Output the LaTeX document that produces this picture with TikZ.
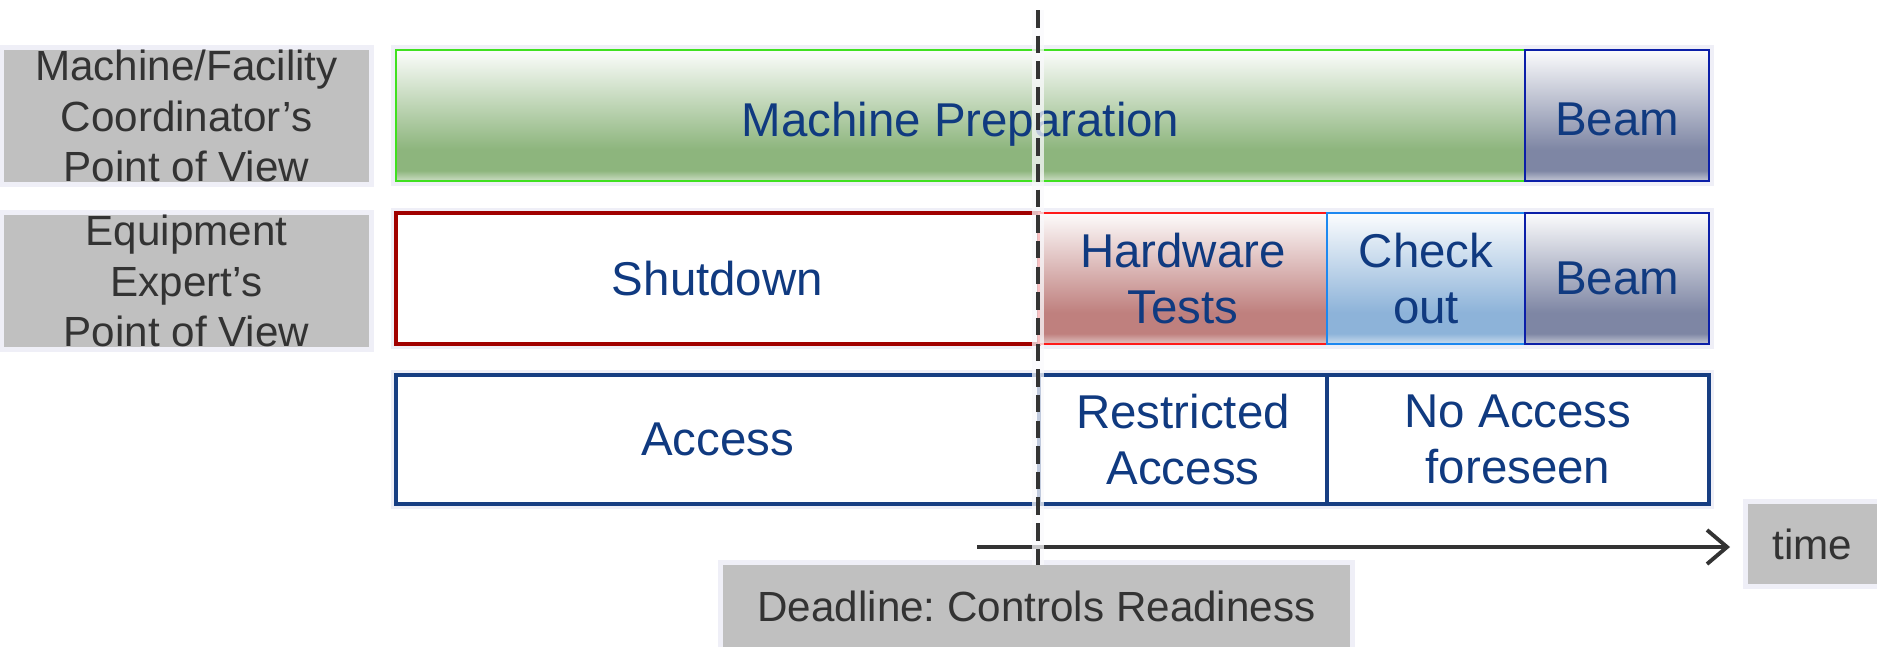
\documentclass[tikz,border=0pt]{standalone}
\usepackage{fontspec}
\setmainfont{Liberation Sans}
\usetikzlibrary{positioning,arrows.meta,backgrounds}

\definecolor{txtblue}{HTML}{103A80}
\definecolor{tagfill}{HTML}{C0C0C0}
\definecolor{tagtext}{HTML}{333333}
\definecolor{glowc}{HTML}{EFEFF7}
\definecolor{prepc}{HTML}{8DB57D}
\definecolor{prepline}{HTML}{40E020}
\definecolor{beamc}{HTML}{7E86A4}
\definecolor{beamline}{HTML}{0B1FA8}
\definecolor{hwc}{HTML}{BF807E}
\definecolor{hwline}{HTML}{FF1A1A}
\definecolor{chkc}{HTML}{8DB3D9}
\definecolor{chkline}{HTML}{1E88F0}
\definecolor{shutline}{HTML}{A00000}
\definecolor{accline}{HTML}{173E82}
\definecolor{darkline}{HTML}{333333}

% vertical fade: light rim at the bottom, full colour low, white at the top
\newcommand{\mkfade}[2]{%
  \pgfdeclareverticalshading{#1}{100bp}{color(0bp)=(#2!45!white);
    color(25bp)=(#2!45!white); color(29bp)=(#2); color(37bp)=(#2);
    color(75bp)=(#2!3!white); color(100bp)=(#2!3!white)}}
\mkfade{prepfade}{prepc}
\mkfade{beamfade}{beamc}
\mkfade{hwfade}{hwc}
\mkfade{chkfade}{chkc}

\begin{document}
\begin{tikzpicture}[x=1cm, y=1cm,
    every node/.style={inner sep=0pt, outer sep=0pt, align=center},
    cell/.style={minimum height=1.31cm, text=txtblue,
      font=\fontsize{13.5}{16}\selectfont, line width=0.6pt},
    acccell/.style={cell, minimum height=1.29cm, draw=accline, fill=white,
      line width=0.9pt},
    tag/.style={fill=tagfill, text=tagtext,
      font=\fontsize{12}{14.3}\selectfont\frenchspacing},
    dline/.style={draw=darkline, line width=0.9pt, dash pattern=on 5pt off 2.3pt},
    tline/.style={draw=darkline, line width=1.1pt,
      -{Straight Barb[length=2mm, width=3.4mm]}, shorten >=0.18cm}]
  \useasboundingbox (0,0) rectangle (18.77,-6.46);

  % points of view
  \node[tag, minimum width=3.65cm, minimum height=1.32cm] (lblA) at (1.865,-1.16)
    {Machine/Facility\\Coordinator’s\\Point of View};
  \node[tag, minimum width=3.65cm, minimum height=1.32cm] (lblB) at (1.865,-2.81)
    {Equipment\\Expert’s\\Point of View};

  % coordinator row
  \node[cell, shading=prepfade, draw=prepline, minimum width=11.29cm,
    anchor=north west] (prep) at (3.96,-0.50)
    {\raisebox{-2.4pt}[\height][\depth]{Machine Preparation}};
  \node[cell, shading=beamfade, draw=beamline, minimum width=1.84cm,
    right=0pt of prep] (beamA) {\raisebox{-1pt}[\height][\depth]{Beam}};

  % expert row
  \node[cell, fill=white, draw=shutline, line width=0.9pt, minimum width=6.43cm,
    anchor=north west] (shut) at (3.96,-2.13) {Shutdown};
  \node[cell, shading=hwfade, draw=hwline, minimum width=2.88cm,
    right=0pt of shut] (hwt) {Hardware\\Tests};
  \node[cell, shading=chkfade, draw=chkline, minimum width=1.98cm,
    right=0pt of hwt] (chk) {Check\\out};
  \node[cell, shading=beamfade, draw=beamline, minimum width=1.84cm,
    right=0pt of chk] (beamB) {Beam};

  % access row
  \node[acccell, minimum width=6.43cm, anchor=north west] (acc) at (3.96,-3.75) {Access};
  \node[acccell, minimum width=2.88cm, right=0pt of acc] (racc) {Restricted\\Access};
  \node[acccell, minimum width=3.82cm, right=0pt of racc] (nacc) {No Access\\foreseen};

  % time axis
  \node[tag, minimum width=1.29cm, minimum height=0.80cm] (tm) at (18.125,-5.44) {time};
  \coordinate (t0) at (9.77,-5.47);
  \draw[tline] (t0) -- (t0 -| tm.west);

  % deadline
  \node[tag, minimum width=6.27cm, minimum height=0.82cm] (dl) at (10.365,-6.06)
    {Deadline: Controls Readiness};
  \coordinate (dtop) at (10.38,-0.10);
  \draw[draw=white!60!glowc, line width=3.5pt, opacity=0.75] (dtop) -- (dtop |- dl.north);
  \draw[dline] (dtop) -- (dtop |- dl.north);

  % soft halo behind the boxes
  \begin{pgfonlayer}{background}
    \foreach \n in {lblA,lblB,prep,beamA,shut,hwt,chk,beamB,acc,racc,nacc,tm,dl}{
      \draw[glowc, line width=3pt] (\n.north west) rectangle (\n.south east);
    }
  \end{pgfonlayer}
\end{tikzpicture}
\end{document}
